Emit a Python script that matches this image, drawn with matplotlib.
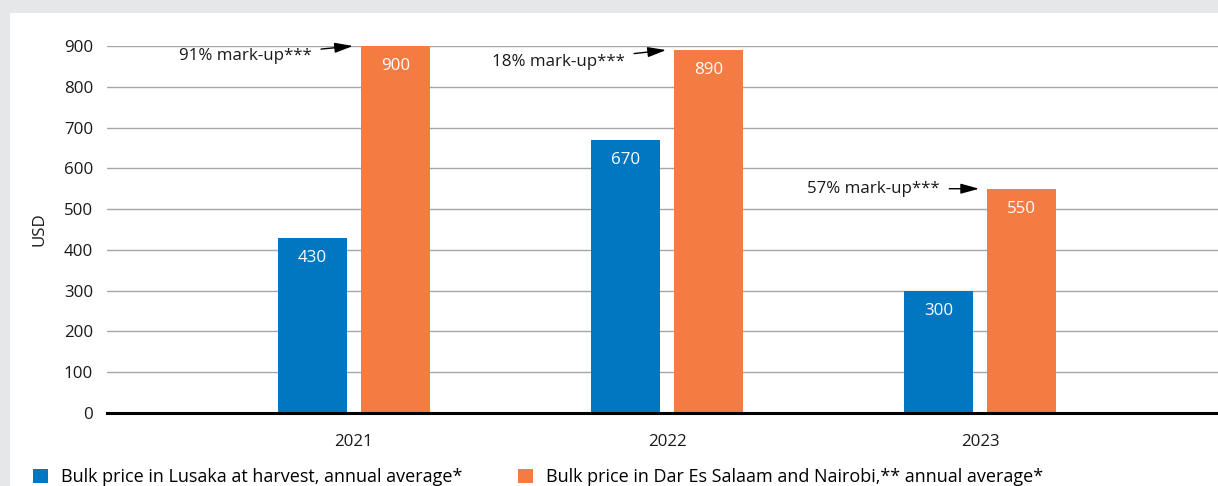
import numpy as np
import matplotlib
matplotlib.use('Agg')
import matplotlib.pyplot as plt
from matplotlib.patches import Rectangle

# Data
years = ['2021', '2022', '2023']
lusaka = [430, 670, 300]
dar_nairobi = [900, 890, 550]
markups = ['91% mark-up***', '18% mark-up***', '57% mark-up***']
y_ticks = [0, 100, 200, 300, 400, 500, 600, 700, 800, 900]
legend_labels = ['Bulk price in Lusaka at harvest, annual average*',
                 'Bulk price in Dar Es Salaam and Nairobi,** annual average*']

BLUE = '#0077c0'
ORANGE = '#f47c42'
BG = '#e6e7e9'
FS = 12.2

plt.rcParams['font.family'] = ['Open Sans', 'DejaVu Sans']

fig = plt.figure(figsize=(12.18, 4.86), dpi=100, facecolor=BG)
# white panel
fig.patches.append(Rectangle((10 / 1218, 0), 1, 1 - 13 / 486, transform=fig.transFigure,
                             facecolor='white', edgecolor='none', zorder=-10))

ax = fig.add_axes([107 / 1218, 1 - 413 / 486, 1 - 107 / 1218, (413 - 46) / 486])
ax.set_facecolor('none')

x = np.arange(len(years))
w = 0.22
off = 0.133
b1 = ax.bar(x - off, lusaka, w, color=BLUE, zorder=3)
b2 = ax.bar(x + off, dar_nairobi, w, color=ORANGE, zorder=3)

for bars, vals in ((b1, lusaka), (b2, dar_nairobi)):
    for r, v in zip(bars, vals):
        ax.annotate(str(v), (r.get_x() + r.get_width() / 2, v), xytext=(0, -14.5),
                    textcoords='offset points', ha='center', va='center',
                    color='white', fontsize=FS, zorder=4)

# mark-up annotations
text_offsets = [(-30, -7.5), (-30, -8.5), (-28.5, 0)]
for i, (lab, v) in enumerate(zip(markups, dar_nairobi)):
    tip_x = x[i] + off - w / 2 - 0.026
    ax.annotate(lab, (tip_x, v), xytext=text_offsets[i], textcoords='offset points',
                ha='right', va='center', fontsize=FS, color='#1a1a1a',
                annotation_clip=False,
                arrowprops=dict(arrowstyle='-|>,head_length=0.8,head_width=0.22',
                                mutation_scale=14, color='black', lw=1,
                                shrinkA=5, shrinkB=0))

ax.set_xlim(-0.789, 2.76)
ax.set_ylim(0, 900)
ax.set_yticks(y_ticks)
ax.set_xticks(x)
ax.set_xticklabels(years)
ax.tick_params(axis='both', length=0, labelsize=FS, colors='#1a1a1a')
ax.tick_params(axis='y', pad=10)
ax.tick_params(axis='x', pad=15)
ax.grid(axis='y', color='#a6a6a6', lw=1, zorder=0)
for s in ['top', 'right', 'left']:
    ax.spines[s].set_visible(False)
ax.spines['bottom'].set_linewidth(2.2)
ax.spines['bottom'].set_color('black')
ax.spines['bottom'].set_zorder(5)
ax.set_ylabel('USD', fontsize=FS, labelpad=12, color='#1a1a1a')

# legend, one entry each
for h, lab, xpos in ((b1, legend_labels[0], 33), (b2, legend_labels[1], 518)):
    fig.legend([h], [lab], loc='center left', bbox_to_anchor=(xpos / 1218, 1 - 477 / 486),
               frameon=False, fontsize=13, handlelength=0.82, handleheight=0.82,
               handletextpad=0.72, borderpad=0, borderaxespad=0)

fig.savefig('out.png', dpi=100, facecolor=BG)
